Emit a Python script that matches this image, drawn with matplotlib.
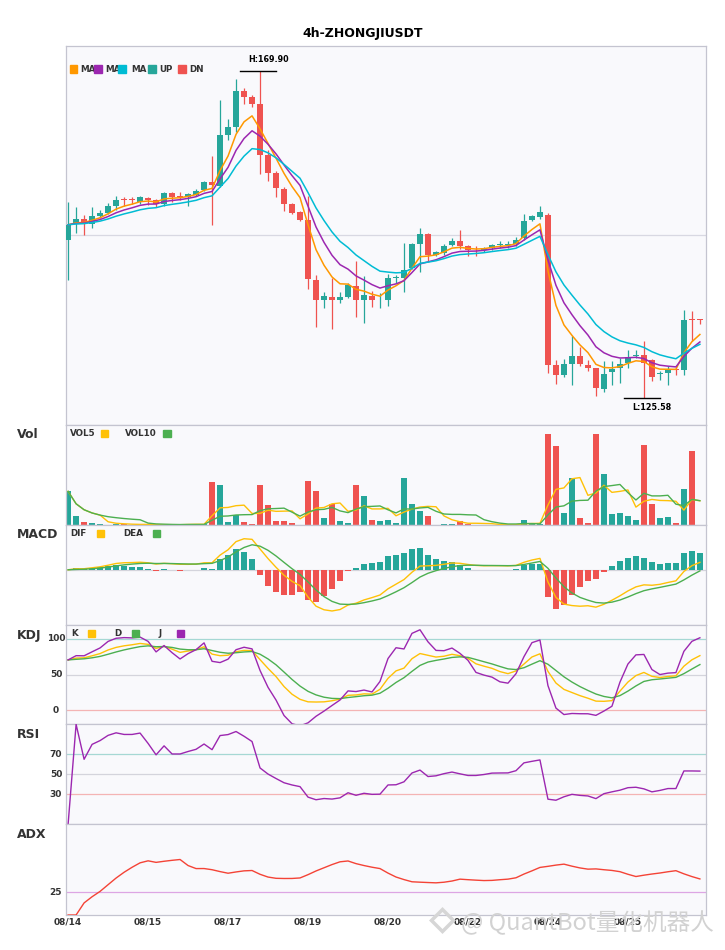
import numpy as np
import pandas as pd
import matplotlib
matplotlib.use("Agg")
import matplotlib.pyplot as plt
from matplotlib.patches import Rectangle
from matplotlib.lines import Line2D

# ---- data (4h candles, 08/14 -> 08/27) ----
title = "4h-ZHONGJIUSDT"

opens = [147.03, 149.20, 149.88, 149.20, 150.28, 150.69, 151.64, 152.46, 152.46, 152.19,
         152.73, 152.46, 151.92, 153.40, 152.90, 152.86, 153.13, 153.81, 154.90, 154.36,
         161.26, 162.35, 167.23, 166.41, 165.46, 158.56, 156.12, 153.95, 151.92, 150.83,
         149.74, 141.62, 138.90, 139.21, 138.80, 139.21, 140.80, 138.90, 139.45, 138.80,
         138.80, 141.88, 141.80, 143.15, 146.49, 147.84, 145.00, 145.23, 146.36, 146.90,
         146.22, 145.65, 145.59, 145.91, 146.36, 146.36, 146.45, 147.27, 149.75, 150.06,
         150.42, 130.09, 128.74, 130.19, 131.22, 130.09, 129.64, 126.81, 129.06, 129.64,
         130.32, 131.22, 131.46, 130.77, 128.80, 128.98, 129.50, 129.33, 136.30, 136.25]
highs = [152.22, 151.50, 150.42, 151.50, 151.10, 152.00, 153.00, 152.86, 152.86, 153.00,
         152.86, 152.59, 153.54, 153.54, 153.54, 153.40, 153.95, 155.00, 158.42, 166.00,
         163.43, 168.85, 167.63, 166.69, 169.90, 159.23, 156.39, 154.22, 152.00, 150.90,
         153.00, 142.30, 139.89, 141.88, 139.98, 141.20, 144.18, 142.16, 140.03, 139.82,
         142.39, 142.30, 146.59, 146.63, 148.62, 147.90, 145.45, 146.45, 147.27, 148.40,
         146.36, 146.22, 146.00, 146.40, 146.80, 146.80, 147.40, 150.52, 150.33, 151.55,
         150.60, 130.77, 130.88, 134.03, 132.45, 130.77, 129.70, 130.64, 130.55, 131.01,
         132.13, 132.13, 133.26, 130.80, 129.20, 129.87, 129.64, 137.56, 137.42, 136.30]
lows = [141.51, 147.98, 147.71, 148.66, 150.01, 150.55, 151.10, 151.64, 151.92, 151.92,
        151.78, 151.50, 151.64, 152.19, 152.46, 151.64, 153.00, 153.70, 149.06, 154.20,
        160.59, 161.67, 165.46, 165.06, 155.98, 155.03, 152.86, 150.97, 150.55, 149.60,
        140.39, 135.15, 137.73, 134.87, 138.45, 139.13, 136.50, 135.69, 137.86, 137.73,
        138.00, 141.17, 139.89, 143.10, 142.60, 144.09, 144.77, 144.90, 146.13, 145.78,
        144.77, 144.77, 145.31, 145.68, 145.91, 145.91, 146.22, 147.04, 149.52, 149.84,
        128.96, 127.49, 128.38, 127.39, 129.87, 129.20, 125.81, 126.35, 127.39, 127.62,
        129.64, 131.01, 125.58, 127.94, 128.07, 127.39, 128.74, 128.74, 133.26, 135.66]
closes = [149.06, 149.88, 149.47, 150.28, 150.69, 151.64, 152.46, 152.40, 152.40, 152.86,
          152.46, 151.92, 153.40, 152.86, 152.86, 153.27, 153.67, 154.90, 154.49, 161.26,
          162.35, 167.23, 166.41, 165.46, 158.56, 156.12, 154.09, 151.92, 150.69, 149.74,
          141.74, 138.90, 139.35, 138.80, 139.21, 140.93, 138.90, 139.58, 138.80, 138.85,
          141.88, 141.95, 142.97, 146.49, 147.84, 145.00, 145.31, 146.22, 146.90, 146.22,
          145.59, 145.59, 145.91, 146.36, 146.40, 146.42, 147.04, 149.61, 150.20, 150.74,
          130.09, 128.74, 130.19, 131.22, 130.19, 129.64, 126.95, 128.84, 129.56, 130.19,
          131.14, 131.30, 130.32, 128.38, 128.84, 129.43, 129.43, 136.20, 136.20, 136.15]
volumes = [100, 26, 10, 7, 4, 1, 4, 2, 1, 1,
           1, 1, 1.5, 0.5, 0.5, 4, 4, 2, 127, 118,
           10, 30, 10, 4, 118, 58, 13, 13, 7, 1,
           130, 100, 22, 62, 13, 7, 118, 85, 16, 13,
           16, 7, 140, 61, 43, 26, 1, 4, 4, 13,
           4, 1, 1, 1, 0.5, 0.5, 1, 16, 4, 4,
           271, 235, 37, 140, 22, 7, 271, 151, 34, 37,
           28, 16, 238, 61, 22, 25, 7, 106, 220, 1]

tick_labels = ['08/14', '08/15', '08/17', '08/19', '08/20', '08/22', '08/24', '08/25']

# ---- indicators ----
df = pd.DataFrame({'open': opens, 'high': highs, 'low': lows,
                   'close': closes, 'vol': volumes})
n = len(df)
x = np.arange(n)
c, h, l = df['close'], df['high'], df['low']

ma_fast = c.ewm(span=5, adjust=False).mean()
ma_mid = c.ewm(span=8, adjust=False).mean()
ma_slow = c.ewm(span=13, adjust=False).mean()

vol5 = df['vol'].rolling(5, min_periods=1).mean()
vol10 = df['vol'].rolling(10, min_periods=1).mean()

dif = c.ewm(span=6, adjust=False).mean() - c.ewm(span=13, adjust=False).mean()
dea = dif.ewm(span=5, adjust=False).mean()
hist = 2 * (dif - dea)

low9 = l.rolling(9, min_periods=1).min()
high9 = h.rolling(9, min_periods=1).max()
rsv = (c - low9) / (high9 - low9) * 100
k = rsv.ewm(com=2, adjust=False).mean()
d = k.ewm(com=2, adjust=False).mean()
j = 3 * k - 2 * d

delta = c.diff()
gain = delta.clip(lower=0).ewm(alpha=1 / 14, adjust=True).mean()
loss = (-delta.clip(upper=0)).ewm(alpha=1 / 14, adjust=True).mean()
rsi = (100 - 100 / (1 + gain / loss)).fillna(0)

up = h.diff()
dn = -l.diff()
plus_dm = pd.Series(np.where((up > dn) & (up > 0), up, 0.0))
minus_dm = pd.Series(np.where((dn > up) & (dn > 0), dn, 0.0))
tr = pd.concat([h - l, (h - c.shift()).abs(), (l - c.shift()).abs()], axis=1).max(axis=1)
atr = tr.ewm(span=14, adjust=False).mean()
pdi = 100 * plus_dm.ewm(span=14, adjust=False).mean() / atr
mdi = 100 * minus_dm.ewm(span=14, adjust=False).mean() / atr
dx = (100 * (pdi - mdi).abs() / (pdi + mdi)).fillna(0)
adx = dx.ewm(span=14, adjust=False).mean()

# ---- colors ----
UP = '#26a69a'
DN = '#ef5350'
C_MA5, C_MA10, C_MA20 = '#ff9800', '#9c27b0', '#00bcd4'
YEL, GRN, PUR = '#ffc107', '#4caf50', '#9c27b0'
BG = '#f9f9fc'
EDGE = '#c4c4d0'
TXT = '#333333'

W, H = 725, 950
fig = plt.figure(figsize=(W / 100, H / 100), dpi=100)
fig.patch.set_facecolor('white')

LEFT, RIGHT = 65.7, 705.5


def panel(top, bot):
    ax = fig.add_axes([LEFT / W, 1 - bot / H, (RIGHT - LEFT) / W, (bot - top) / H])
    ax.set_facecolor(BG)
    for s in ax.spines.values():
        s.set_color(EDGE)
        s.set_linewidth(0.9)
    ax.set_xlim(-0.3, n - 0.3)
    ax.tick_params(length=0, labelleft=False, labelbottom=False)
    return ax


def fpos(px, py):
    return px / W, 1 - py / H


def ftext(px, py, s, size=6.3, ha='left', color=TXT, weight='bold'):
    fig.text(*fpos(px, py), s, fontsize=size, fontweight=weight, color=color,
             ha=ha, va='center')


def fsquare(px, py, color, size=7.3):
    fx, fy = fpos(px, py + size / 2)
    fig.add_artist(Rectangle((fx, fy), size / W, size / H, color=color,
                             transform=fig.transFigure, zorder=10))


ax_main = panel(45.7, 424.7)
ax_vol = panel(424.7, 525)
ax_macd = panel(525, 624.7)
ax_kdj = panel(624.7, 724.3)
ax_rsi = panel(724.3, 824.3)
ax_adx = panel(824.3, 915)

# ---- candles ----
bw = 0.72
is_up = df['close'] >= df['open']
colors = np.where(is_up, UP, DN)
ax_main.vlines(x, l, h, colors=colors, lw=0.9, zorder=2)
body_lo = np.minimum(df['open'], df['close'])
body_h = np.maximum((df['open'] - df['close']).abs(), 0.12)
ax_main.bar(x, body_h, bottom=body_lo, width=bw, color=colors, zorder=3)
ax_main.plot(x, ma_fast, color=C_MA5, lw=1.1, zorder=4)
ax_main.plot(x, ma_mid, color=C_MA10, lw=1.1, zorder=4)
ax_main.plot(x, ma_slow, color=C_MA20, lw=1.1, zorder=4)

hi_i, lo_i = int(np.argmax(highs)), int(np.argmin(lows))
rng = highs[hi_i] - lows[lo_i]
ymin, ymax = lows[lo_i] - 0.082 * rng, highs[hi_i] + 0.078 * rng
ax_main.set_ylim(ymin, ymax)
ax_main.axhline((ymin + ymax) / 2, color='#d8d8e2', lw=0.9, zorder=0)

ax_main.plot([hi_i - 2.5, hi_i + 2], [highs[hi_i]] * 2, color='black', lw=1.0)
ax_main.annotate(f"H:{highs[hi_i]:.2f}", (hi_i - 1.45, highs[hi_i]), xytext=(0, 5),
                 textcoords='offset points', fontsize=5.8, fontweight='bold',
                 ha='left', va='bottom')
ax_main.plot([lo_i - 2.5, lo_i + 2], [lows[lo_i]] * 2, color='black', lw=1.0)
ax_main.annotate(f"L:{lows[lo_i]:.2f}", (lo_i - 1.45, lows[lo_i]), xytext=(0, -4),
                 textcoords='offset points', fontsize=5.8, fontweight='bold',
                 ha='left', va='top')

# main legend
for sx, col in [(70, C_MA5), (94.3, C_MA10), (118.3, C_MA20), (148.3, UP), (178.3, DN)]:
    fsquare(sx, 69, col)
for tx, s in [(80.7, 'MA'), (105, 'MA'), (131.7, 'MA'), (159, 'UP'), (189.3, 'DN')]:
    ftext(tx, 69, s)

# ---- volume ----
ax_vol.bar(x, df['vol'], width=bw, color=colors, zorder=2)
ax_vol.plot(x, vol5, color=YEL, lw=1.0, zorder=3)
ax_vol.plot(x, vol10, color=GRN, lw=1.0, zorder=3)
ax_vol.set_ylim(0, df['vol'].max() * 1.1)
ftext(17, 435, 'Vol', size=9)
ftext(70, 433.7, 'VOL5')
fsquare(101, 433.7, YEL)
ftext(125, 433.7, 'VOL10')
fsquare(163.3, 433.7, GRN)

# ---- MACD ----
ax_macd.bar(x, hist, width=bw, color=np.where(hist >= 0, UP, DN), zorder=2)
ax_macd.plot(x, dif, color=YEL, lw=1.0, zorder=3)
ax_macd.plot(x, dea, color=GRN, lw=1.0, zorder=3)
ax_macd.axhline(0, color='#d4d4dc', lw=0.9, zorder=1)
mlo = min(dif.min(), dea.min(), hist.min())
mhi = max(dif.max(), dea.max(), hist.max())
mr = mhi - mlo
ax_macd.set_ylim(mlo - 0.19 * mr, mhi + 0.19 * mr)
ftext(17, 535, 'MACD', size=9)
ftext(70, 533.3, 'DIF')
fsquare(96.7, 533.3, YEL)
ftext(123.3, 533.3, 'DEA')
fsquare(152.7, 533.3, GRN)


def ylabels(ax, vals):
    for v in vals:
        ax.text(-0.0152, v, str(v), transform=ax.get_yaxis_transform(),
                fontsize=6.5, fontweight='bold', color=TXT, ha='center', va='center')


# ---- KDJ ----
ax_kdj.axhline(100, color='#a6d8d4', lw=0.9, zorder=1)
ax_kdj.axhline(50, color='#d4d4dc', lw=0.9, zorder=1)
ax_kdj.axhline(0, color='#f4b4b4', lw=0.9, zorder=1)
ax_kdj.plot(x, k, color=YEL, lw=1.0, zorder=3)
ax_kdj.plot(x, d, color=GRN, lw=1.0, zorder=3)
ax_kdj.plot(x, j, color=PUR, lw=1.0, zorder=3)
ax_kdj.set_ylim(-20, 120)
ylabels(ax_kdj, [100, 50, 0])
ftext(17, 635, 'KDJ', size=9)
ftext(71, 633.3, 'K')
fsquare(88, 633.3, YEL)
ftext(114.5, 633.3, 'D')
fsquare(132, 633.3, GRN)
ftext(159, 633.3, 'J')
fsquare(176.6, 633.3, PUR)

# ---- RSI ----
ax_rsi.axhline(70, color='#a6d8d4', lw=0.9, zorder=1)
ax_rsi.axhline(50, color='#d4d4dc', lw=0.9, zorder=1)
ax_rsi.axhline(30, color='#f4b4b4', lw=0.9, zorder=1)
ax_rsi.plot(x, rsi, color=PUR, lw=1.0, zorder=3)
ax_rsi.set_ylim(0, 100)
ylabels(ax_rsi, [70, 50, 30])
ftext(17, 735, 'RSI', size=9)

# ---- ADX ----
ax_adx.axhline(25, color='#dda6e4', lw=0.9, zorder=1)
ax_adx.plot(x, adx, color='#f44336', lw=1.0, zorder=3)
ax_adx.set_ylim(0, 100)
ylabels(ax_adx, [25])
ftext(17, 835, 'ADX', size=9)

ax_adx.set_xticks(x[::10])
ax_adx.set_xticklabels(tick_labels)
ax_adx.tick_params(labelbottom=True, length=0, pad=2)
for t in ax_adx.get_xticklabels():
    t.set_fontsize(6.5)
    t.set_fontweight('bold')
    t.set_color(TXT)

# ---- title and watermark ----
ftext(363, 34, title, size=9, ha='center', color='black')
fig.add_artist(Line2D([442 / W], [1 - 920 / H], marker='D', markersize=11,
                      markerfacecolor='none', markeredgecolor='#d6d6d6',
                      markeredgewidth=2.5, transform=fig.transFigure, zorder=20))
fig.text(*fpos(461, 923), "@ QuantBot量化机器人", fontsize=17, color='#d2d2d2',
         family=['Noto Sans CJK SC', 'DejaVu Sans'], ha='left', va='center', zorder=20)

fig.savefig('out.png', dpi=100)
